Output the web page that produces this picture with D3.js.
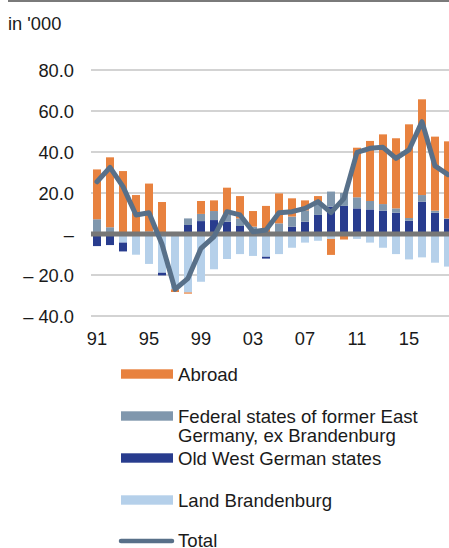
<!DOCTYPE html>
<html>
<head>
<meta charset="utf-8">
<script src="https://cdn.jsdelivr.net/npm/d3@7"></script>
<style>
  html, body { margin: 0; padding: 0; background: #fff; }
  svg { display: block; font-family: "Liberation Sans", Arial, sans-serif; }
  .axis text { font-size: 18.3px; fill: #1a1a1a; }
  .legend text { font-size: 18.6px; fill: #1a1a1a; }
</style>
</head>
<body>
<div id="chart-wrap"></div>
<script>
// migration balance by origin, in '000
var years = [1991, 1992, 1993, 1994, 1995, 1996, 1997, 1998, 1999, 2000, 2001, 2002, 2003, 2004,
  2005, 2006, 2007, 2008, 2009, 2010, 2011, 2012, 2013, 2014, 2015, 2016, 2017, 2018];
var abroad = [24.3, 34.1, 30.2, 18.5, 23.4, 15.6, -1.3, -0.6, 6.3, 5.2, 13.1, 10.9, 7.6, 13.7,
  14.6, 8.9, 4.9, 3.5, -7.8, -2.2, 24.2, 29.3, 34.0, 34.2, 45.7, 46.7, 36.1, 37.6];
var formerEast = [6.2, 2.8, 0.5, 0.5, 1.2, 0, 0.5, 3.2, 3.5, 4.4, 3.5, 3.7, 3.6, 0,
  5.2, 4.9, 5.5, 5.7, 7.4, 6.3, 5.4, 4.1, 3.2, 2.1, 1.3, 3.2, 1.0, 0.3];
var oldWest = [-5.9, -5.4, -4.3, 0, 0, -1.3, 0.5, 4.4, 6.3, 6.8, 6.0, 3.9, 0, -0.9,
  0, 3.6, 6.0, 9.3, 13.3, 13.7, 12.5, 12.0, 11.4, 10.4, 6.5, 15.8, 10.4, 7.3];
var brandenburg = [1.0, 0.5, -4.2, -10.1, -14.6, -18.9, -27.0, -28.5, -23.3, -17.2, -12.2, -9.8, -10.7, -11.1,
  -9.8, -6.7, -4.2, -3.3, -2.4, -0.5, -2.4, -4.2, -6.7, -9.8, -12.4, -11.4, -14.0, -15.9];
var total = [25.5, 32.5, 23.1, 9.3, 10.4, -5.0, -27.0, -21.6, -7.0, -1.3, 10.9, 9.3, 1.1, 2.0,
  10.4, 10.9, 12.5, 15.8, 10.4, 17.4, 39.8, 41.8, 42.3, 36.9, 41.0, 54.8, 33.2, 29.0];
var yTicks = [-40, -20, 0, 20, 40, 60, 80];
var xTickYears = [1991, 1995, 1999, 2003, 2007, 2011, 2015];

var series = [
  { key: "abroad", label: ["Abroad"], color: "#e8823f" },
  { key: "formerEast", label: ["Federal states of former East", "Germany, ex Brandenburg"], color: "#8097ad" },
  { key: "oldWest", label: ["Old West German states"], color: "#283c8e" },
  { key: "brandenburg", label: ["Land Brandenburg"], color: "#b5d0ea" }
];
var lineColor = "#587089";

var rows = years.map(function(y, i) {
  return { year: y, abroad: abroad[i], formerEast: formerEast[i], oldWest: oldWest[i], brandenburg: brandenburg[i] };
});

var width = 449, height = 548;
var plotLeft = 91, plotRight = 449;

var svg = d3.select("#chart-wrap")
  .append("svg")
  .attr("width", width)
  .attr("height", height);

// top rule
svg.append("line")
  .attr("x1", 8).attr("x2", width)
  .attr("y1", 1).attr("y2", 1)
  .attr("stroke", "#7a7a7a")
  .attr("stroke-width", 2);

svg.append("text")
  .attr("x", 8)
  .attr("y", 30)
  .style("font-size", "18.3px")
  .style("fill", "#1a1a1a")
  .text("in '000");

var x = d3.scaleBand()
  .domain(years)
  .range([90.5, 90.5 + years.length * 13])
  .paddingInner(0.385)
  .paddingOuter(0.1925);

var y = d3.scaleLinear()
  .domain([-40, 80])
  .range([316, 70]);

var fmt = function(d) {
  if (d === 0) return "–";
  if (d < 0) return "– " + Math.abs(d).toFixed(1);
  return d.toFixed(1);
};

var yAxis = d3.axisLeft(y)
  .tickValues(yTicks)
  .tickSize(0)
  .tickPadding(0)
  .tickFormat(fmt);

var gy = svg.append("g")
  .attr("class", "axis axis--y")
  .attr("transform", "translate(74,0)")
  .call(yAxis);
gy.select(".domain").remove();
gy.selectAll("text").attr("dy", "0.36em");

// gridlines
svg.append("g")
  .selectAll("line")
  .data(yTicks.filter(function(d) { return d !== 0; }))
  .join("line")
  .attr("x1", plotLeft).attr("x2", plotRight)
  .attr("y1", function(d) { return y(d); })
  .attr("y2", function(d) { return y(d); })
  .attr("stroke", "#c4c4c4")
  .attr("stroke-width", 1.3);

var xAxis = d3.axisBottom(x)
  .tickValues(xTickYears)
  .tickSize(0)
  .tickPadding(0)
  .tickFormat(function(d) { return String(d).slice(2); });

var gx = svg.append("g")
  .attr("class", "axis axis--x")
  .attr("transform", "translate(0,332)")
  .call(xAxis);
gx.select(".domain").remove();
gx.selectAll("text").attr("dy", "0.72em").attr("y", 0);

// stacked bars
var stacked = d3.stack()
  .keys(["brandenburg", "oldWest", "formerEast", "abroad"])
  .offset(d3.stackOffsetDiverging)(rows);

var colorOf = {};
series.forEach(function(s) { colorOf[s.key] = s.color; });

svg.append("g")
  .selectAll("g")
  .data(stacked)
  .join("g")
  .attr("fill", function(d) { return colorOf[d.key]; })
  .selectAll("rect")
  .data(function(d) { return d; })
  .join("rect")
  .attr("x", function(d) { return x(d.data.year); })
  .attr("width", x.bandwidth())
  .attr("y", function(d) { return y(Math.max(d[0], d[1])); })
  .attr("height", function(d) { return Math.abs(y(d[0]) - y(d[1])); });

// zero line
svg.append("line")
  .attr("x1", plotLeft).attr("x2", plotRight)
  .attr("y1", y(0)).attr("y2", y(0))
  .attr("stroke", "#777777")
  .attr("stroke-width", 5);

// total line
var line = d3.line()
  .x(function(d, i) { return x(years[i]) + x.bandwidth() / 2; })
  .y(function(d) { return y(d); });

svg.append("path")
  .datum(total)
  .attr("d", line)
  .attr("fill", "none")
  .attr("stroke", lineColor)
  .attr("stroke-width", 5)
  .attr("stroke-linejoin", "round")
  .attr("stroke-linecap", "round");

// legend
var legend = svg.append("g").attr("class", "legend");
var legendY = [374, 416, 458, 500];

series.forEach(function(s, i) {
  legend.append("rect")
    .attr("x", 121)
    .attr("y", legendY[i] - 4.7)
    .attr("width", 52)
    .attr("height", 9.4)
    .attr("fill", s.color);
  var t = legend.append("text")
    .attr("x", 178)
    .attr("y", legendY[i] + 6.5);
  s.label.forEach(function(l, j) {
    t.append("tspan")
      .attr("x", 178)
      .attr("dy", j === 0 ? 0 : 19.4)
      .text(l);
  });
});

legend.append("line")
  .attr("x1", 121).attr("x2", 172)
  .attr("y1", 541).attr("y2", 541)
  .attr("stroke", lineColor)
  .attr("stroke-width", 4.5)
  .attr("stroke-linecap", "round");
legend.append("text")
  .attr("x", 178)
  .attr("y", 547)
  .text("Total");
</script>
</body>
</html>
